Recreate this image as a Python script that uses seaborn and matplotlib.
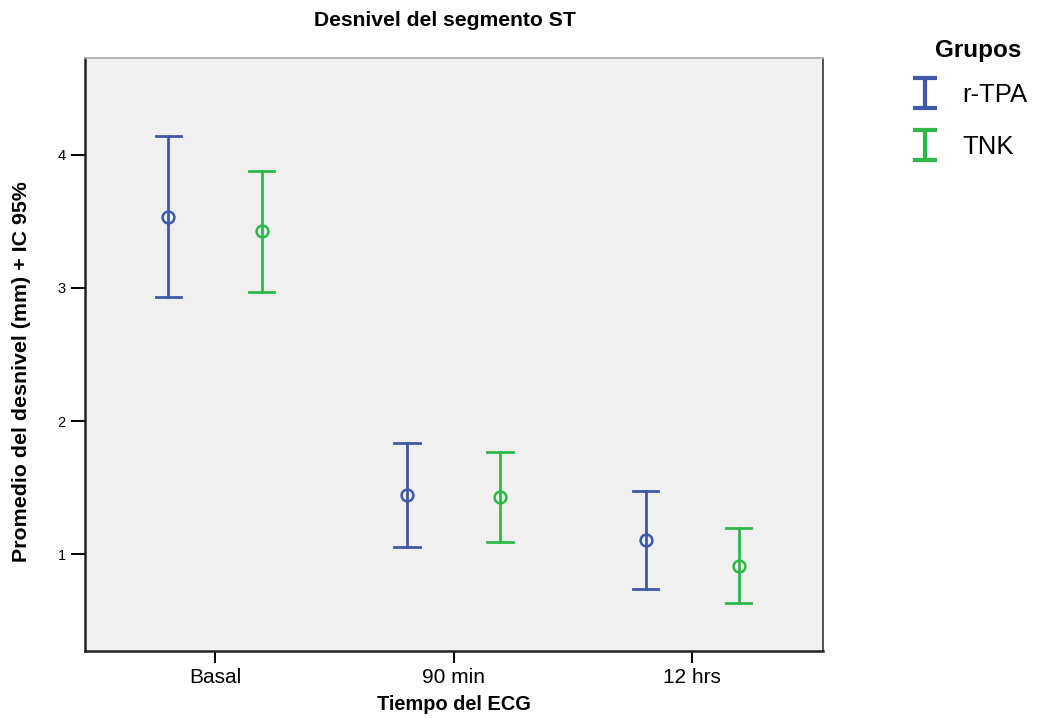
import numpy as np
import pandas as pd
import seaborn as sns
import matplotlib
matplotlib.use("Agg")
import matplotlib.pyplot as plt
from matplotlib.path import Path
from matplotlib.lines import Line2D

# ---- data ----
categories = ["Basal", "90 min", "12 hrs"]
groups = ["r-TPA", "TNK"]
rtpa_mean = [3.535, 1.444, 1.103]
rtpa_low = [2.930, 1.050, 0.735]
rtpa_high = [4.142, 1.834, 1.472]
tnk_mean = [3.429, 1.429, 0.910]
tnk_low = [2.972, 1.090, 0.629]
tnk_high = [3.878, 1.767, 1.193]
colors = ["#3E58AC", "#2EB848"]

# table: low / mean / high per cell; median gives the mean, min-max gives the CI
rows = []
for g, lo, mu, hi in [("r-TPA", rtpa_low, rtpa_mean, rtpa_high),
                      ("TNK", tnk_low, tnk_mean, tnk_high)]:
    for c, a, b, d in zip(categories, lo, mu, hi):
        for v in (a, b, d):
            rows.append({"Tiempo": c, "Grupo": g, "valor": v})
df = pd.DataFrame(rows)

plt.rcParams["font.family"] = ["Liberation Sans", "DejaVu Sans"]

fig = plt.figure(figsize=(10.38, 7.19), dpi=100)
ax = fig.add_axes([85 / 1038, 1 - 651 / 719, (823 - 85) / 1038, (651 - 58) / 719])
ax.set_facecolor("#F0F0F0")

sns.pointplot(data=df, x="Tiempo", y="valor", hue="Grupo",
              order=categories, hue_order=groups, palette=colors,
              estimator="median", errorbar=lambda v: (np.min(v), np.max(v)),
              dodge=0.39, capsize=0.108, linestyles="none", markers="o",
              markersize=8.5, markeredgewidth=1.8,
              err_kws={"linewidth": 2.0}, legend=False, ax=ax)
for ln in ax.lines:
    ln.set_markerfacecolor("none")

ax.set_xlim(-0.545, 2.549)
ax.set_ylim(0.271, 4.729)
ax.set_yticks([1, 2, 3, 4])
ax.set_xlabel("")
ax.set_ylabel("")
ax.tick_params(axis="x", labelsize=15, length=8.5, width=1.4, pad=4, colors="black")
ax.tick_params(axis="y", labelsize=10.5, length=10, width=1.4, pad=4, colors="black")
for side in ["left", "bottom"]:
    ax.spines[side].set_color("#222222")
    ax.spines[side].set_linewidth(1.8)
ax.spines["top"].set_color("#b0b0b0")
ax.spines["top"].set_linewidth(1.3)
ax.spines["right"].set_color("#444444")
ax.spines["right"].set_linewidth(1.3)

fig.text(445 / 1038, 1 - 20 / 719, "Desnivel del segmento ST", ha="center", va="center",
         fontsize=15.2, fontweight="bold")
fig.text(454 / 1038, 1 - 704 / 719, "Tiempo del ECG", ha="center", va="center",
         fontsize=14.4, fontweight="bold")
fig.text(22 / 1038, 1 - 372 / 719, "Promedio del desnivel (mm) + IC 95%", ha="center",
         va="center", rotation=90, fontsize=15.4, fontweight="bold")

# legend with I-beam handles
fig.text(978 / 1038, 1 - 50 / 719, "Grupos", ha="center", va="center",
         fontsize=17.5, fontweight="bold")
ibeam = Path([(-0.5, 0.6), (0.5, 0.6), (0, 0.6), (0, -0.6), (-0.5, -0.6), (0.5, -0.6)],
             [Path.MOVETO, Path.LINETO, Path.MOVETO, Path.LINETO, Path.MOVETO, Path.LINETO])
handles = [Line2D([], [], linestyle="none", marker=ibeam, markersize=21,
                  markeredgewidth=3, color=c, markerfacecolor="none") for c in colors]
leg = fig.legend(handles, groups, loc="upper left", bbox_to_anchor=(889 / 1038, 1 - 60 / 719),
                 frameon=False, fontsize=18.5, handlelength=1.0, handletextpad=0.94,
                 labelspacing=1.1)

fig.savefig("out.png", dpi=100)
